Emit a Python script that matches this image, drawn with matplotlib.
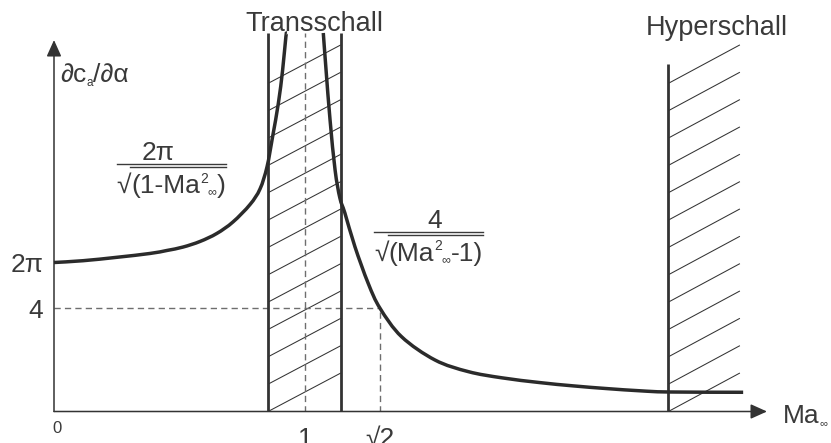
import numpy as np
import matplotlib
matplotlib.use('Agg')
import matplotlib.pyplot as plt
from matplotlib.lines import Line2D
from matplotlib.collections import LineCollection
from matplotlib.path import Path
from matplotlib.patches import PathPatch

plt.rcParams['font.family'] = ['Liberation Sans', 'DejaVu Sans']

# lift slope curve, schematic units (x: Mach number, y: dc_a/dalpha)
ma_sub = [0.0, 0.116, 0.251, 0.382, 0.450, 0.514, 0.582, 0.649, 0.713,
          0.781, 0.821, 0.849, 0.871, 0.894, 0.911, 0.924, 0.928]
cl_sub = [6.28, 6.37, 6.54, 6.73, 6.88, 7.05, 7.33, 7.73, 8.30,
          9.17, 9.95, 11.06, 12.55, 14.22, 15.88, 17.54, 17.72]

ma_sup = [1.073, 1.084, 1.100, 1.120, 1.139, 1.159, 1.199, 1.252, 1.299,
          1.385, 1.518, 1.651, 1.784, 1.936, 2.069, 2.203, 2.335, 2.448, 2.746]
cl_sup = [17.72, 15.88, 13.38, 10.89, 9.50, 8.75, 7.07, 5.24, 4.00,
          2.58, 1.42, 0.84, 0.533, 0.294, 0.130, -0.005, -0.115, -0.174, -0.189]

transonic = [0.853, 1.143]
hypersonic = 2.448
hyper_hatch_end = 2.733

ytick_vals = [2 * np.pi, 4]
ytick_labels = ['2π', '4']
xtick_vals = [1, 1.299]
xtick_labels = ['1', '√2']

INK = '#333333'
CURVE = '#2b2b2b'
TXT = '#3a3a3a'
DASH = '#6e6e6e'

W, H = 831, 443
fig = plt.figure(figsize=(W / 100, H / 100), dpi=100)
ax = fig.add_axes([54 / W, (H - 411.5) / H, (767 - 54) / W, (411.5 - 33) / H])
x_lo, x_hi = 0, 2.841
y_lo, y_hi = -1.147, 17.72
ax.set_xlim(x_lo, x_hi)
ax.set_ylim(y_lo, y_hi)
for s in ax.spines.values():
    s.set_visible(False)

# axes with arrow heads
arrow = dict(arrowstyle='-|>,head_length=1.0,head_width=0.45', mutation_scale=10,
             lw=1.1, color=INK, shrinkA=0, shrinkB=0)
ax.annotate('', xy=(x_hi, y_lo), xytext=(0, y_lo), arrowprops=arrow, annotation_clip=False)
ax.annotate('', xy=(0, 17.37), xytext=(0, y_lo), arrowprops=arrow, annotation_clip=False)


def hatch(x0, x1, top, step=1.363, rise=1.919):
    segs = []
    y = y_lo
    while y + rise <= top + 1e-6:
        segs.append([(x0, y), (x1, y + rise)])
        y += step
    ax.add_collection(LineCollection(segs, colors=INK, linewidths=0.75, zorder=2))


hatch(transonic[0], transonic[1], y_hi)
hatch(hypersonic, hyper_hatch_end, y_hi)

ax.vlines(transonic, y_lo, y_hi, colors=INK, lw=2.0, zorder=3)
ax.vlines(hypersonic, y_lo, 16.18, colors=INK, lw=2.0, zorder=3)

# guide lines for Ma = 1 and the point (sqrt2, 4)
dash = dict(color=DASH, lw=1.0, dashes=(4.5, 3), zorder=2)
ax.plot([xtick_vals[0]] * 2, [y_lo, y_hi], **dash)
ax.plot([xtick_vals[1]] * 2, [y_lo, ytick_vals[1]], **dash)
ax.plot([0, xtick_vals[1]], [ytick_vals[1]] * 2, **dash)


def smooth_curve(xs, ys):
    # Catmull-Rom through the points, drawn as cubic Bezier segments;
    # done in pixel space so the tangents are not skewed by the axis scales
    pts = ax.transData.transform(np.column_stack([xs, ys]))
    ext = np.vstack([pts[0], pts, pts[-1]])
    verts = [pts[0]]
    codes = [Path.MOVETO]
    for i in range(1, len(ext) - 2):
        p0, p1, p2, p3 = ext[i - 1], ext[i], ext[i + 1], ext[i + 2]
        verts += [p1 + (p2 - p0) / 6, p2 - (p3 - p1) / 6, p2]
        codes += [Path.CURVE4] * 3
    verts = ax.transData.inverted().transform(np.array(verts))
    ax.add_patch(PathPatch(Path(verts, codes), fill=False, edgecolor=CURVE,
                           lw=2.5, zorder=4, clip_on=False))


smooth_curve(ma_sub, cl_sub)
smooth_curve(ma_sup, cl_sup)

ax.set_yticks(ytick_vals, ytick_labels)
ax.set_xticks(xtick_vals, xtick_labels)
ax.tick_params(axis='y', length=0, pad=7.9, labelsize=19, labelcolor=TXT)
ax.tick_params(axis='x', length=0, pad=11, labelsize=19, labelcolor=TXT)


def fxy(px, py):
    return px / W, 1 - py / H


def chain(px, py, pieces):
    # write pieces one after another on a common baseline
    r = fig.canvas.get_renderer()
    boxes = []
    x = px
    for s, size, rise in pieces:
        t = fig.text(*fxy(x, py - rise), s, fontsize=size, color=TXT,
                     ha='left', va='baseline')
        bb = t.get_window_extent(r)
        boxes.append(bb)
        x = bb.x1
    return boxes


def fraction(px, py, pieces, numer, numer_cx, bar_y):
    boxes = chain(px, py, pieces)
    left, right = boxes[0].x0, boxes[-1].x1
    fig.add_artist(Line2D([left / W, right / W], [1 - bar_y / H] * 2,
                          transform=fig.transFigure, color=TXT, lw=1.0))
    fig.add_artist(Line2D([(boxes[0].x1 - 1) / W, right / W], [1 - (bar_y + 3.3) / H] * 2,
                          transform=fig.transFigure, color=TXT, lw=1.0))
    fig.text(*fxy(numer_cx, bar_y - 3.5), numer, fontsize=19, color=TXT,
             ha='center', va='baseline')


fraction(116.7, 193.3, [('√', 19, 0), ('(1-Ma', 19, 0), ('2', 10, 10),
                        ('∞', 9, -2), (')', 19, 0)], '2π', 158.5, 163.5)
fraction(374, 260.7, [('√', 19, 0), ('(Ma', 19, 0), ('2', 10, 10.5),
                      ('∞', 9, -2), ('-1)', 19, 0)], '4', 435, 231.7)

chain(60, 82, [('∂c', 19, 0), ('a', 8.5, -4), ('/∂α', 19, 0)])
chain(783, 423, [('Ma', 19, 0), ('∞', 8, -3)])

fig.text(*fxy(52, 433), '0', fontsize=12, color=TXT, ha='left', va='baseline')
fig.text(*fxy(314, 31), 'Transschall', fontsize=19.5, color=TXT, ha='center', va='baseline')
fig.text(*fxy(717, 35), 'Hyperschall', fontsize=19.5, color=TXT, ha='center', va='baseline')

fig.savefig('out.png', dpi=100)
